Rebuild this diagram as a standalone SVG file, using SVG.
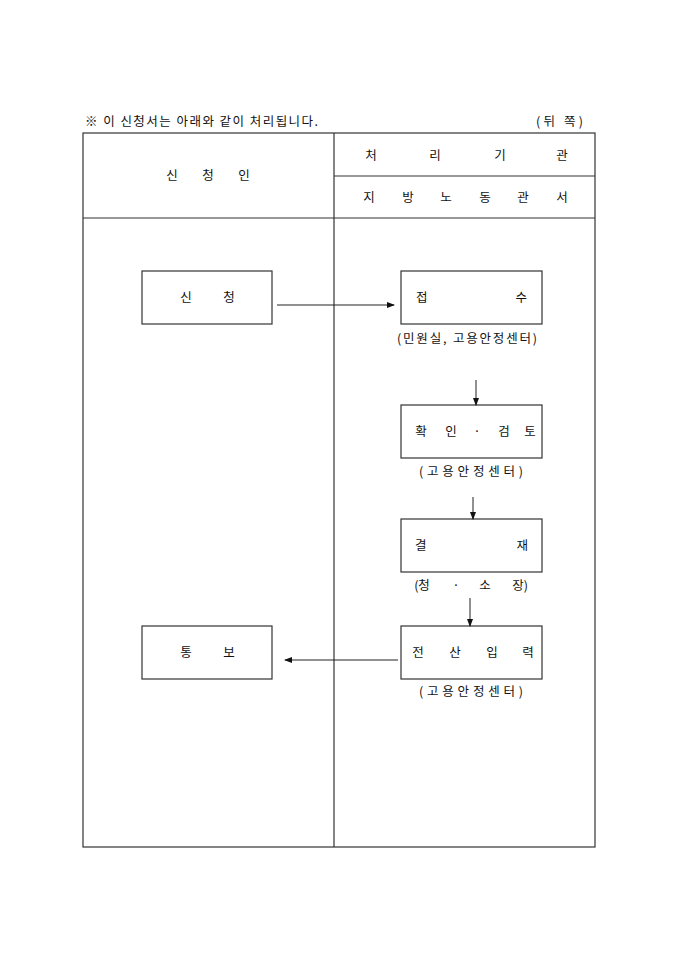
<svg xmlns="http://www.w3.org/2000/svg" width="680" height="962" viewBox="0 0 680 962">
<style>
text{font-family:"Noto Sans CJK KR","Liberation Sans",sans-serif;font-size:12.5px;fill:#111;}
.ln{stroke:#333;stroke-width:1.2;fill:none;}
.box{fill:#fff;stroke:#333;stroke-width:1.2;}
.con{stroke:#222;stroke-width:1;fill:none;marker-end:url(#ah);}
</style>
<defs>
<marker id="ah" markerWidth="8" markerHeight="6" refX="7" refY="3" orient="auto" markerUnits="userSpaceOnUse">
<path d="M0,0 L8,3 L0,6 Z" fill="#111"/>
</marker>
</defs>
<rect width="680" height="962" fill="#fff"/>
<text x="85" y="126" textLength="233" lengthAdjust="spacing">※ 이 신청서는 아래와 같이 처리됩니다.</text>
<text x="536" y="126" textLength="47" lengthAdjust="spacing">(뒤 쪽)</text>
<g id="table">
<rect class="ln" x="83" y="133" width="512" height="714"/>
<line class="ln" x1="334" y1="133" x2="334" y2="847"/>
<line class="ln" x1="83" y1="218" x2="595" y2="218"/>
<line class="ln" x1="334" y1="176" x2="595" y2="176"/>
<g text-anchor="middle">
<text x="172" y="180">신</text><text x="208" y="180">청</text><text x="244" y="180">인</text>
<text x="371" y="160">처</text><text x="435" y="160">리</text><text x="500" y="160">기</text><text x="562" y="160">관</text>
<text x="369" y="202">지</text><text x="408" y="202">방</text><text x="446" y="202">노</text><text x="485" y="202">동</text><text x="523" y="202">관</text><text x="562" y="202">서</text>
</g>
</g>
<g id="n-apply">
<rect class="box" x="142" y="271" width="130" height="53"/>
<text x="186" y="302" text-anchor="middle">신</text><text x="229" y="302" text-anchor="middle">청</text>
</g>
<g id="n-receive">
<rect class="box" x="401" y="271" width="141" height="53"/>
<text x="416" y="302">접</text><text x="527" y="302" text-anchor="end">수</text>
<text x="397" y="343" textLength="140" lengthAdjust="spacing">(민원실, 고용안정센터)</text>
</g>
<g id="n-review">
<rect class="box" x="401" y="405" width="141" height="53"/>
<g text-anchor="middle">
<text x="421" y="436">확</text><text x="451" y="436">인</text><text x="477" y="436">·</text><text x="504" y="436">검</text><text x="530" y="436">토</text>
</g>
<text x="419" y="476" textLength="104" lengthAdjust="spacing">(고용안정센터)</text>
</g>
<g id="n-approve">
<rect class="box" x="401" y="519" width="141" height="53"/>
<text x="415" y="550">결</text><text x="528" y="550" text-anchor="end">재</text>
<g text-anchor="middle">
<text x="422" y="590">(청</text><text x="456" y="590">·</text><text x="485" y="590">소</text><text x="520" y="590">장)</text>
</g>
</g>
<g id="n-input">
<rect class="box" x="401" y="626" width="141" height="53"/>
<g text-anchor="middle">
<text x="418" y="657">전</text><text x="455" y="657">산</text><text x="492" y="657">입</text><text x="528" y="657">력</text>
</g>
<text x="419" y="696" textLength="104" lengthAdjust="spacing">(고용안정센터)</text>
</g>
<g id="n-notify">
<rect class="box" x="142" y="626" width="130" height="53"/>
<text x="186" y="657" text-anchor="middle">통</text><text x="229" y="657" text-anchor="middle">보</text>
</g>
<g id="connectors">
<line class="con" x1="277" y1="305" x2="394" y2="305"/>
<line class="con" x1="476" y1="380" x2="476" y2="405"/>
<line class="con" x1="473" y1="497" x2="473" y2="519"/>
<line class="con" x1="470" y1="598" x2="470" y2="626"/>
<line class="con" x1="398" y1="660" x2="285" y2="660"/>
</g>
</svg>
